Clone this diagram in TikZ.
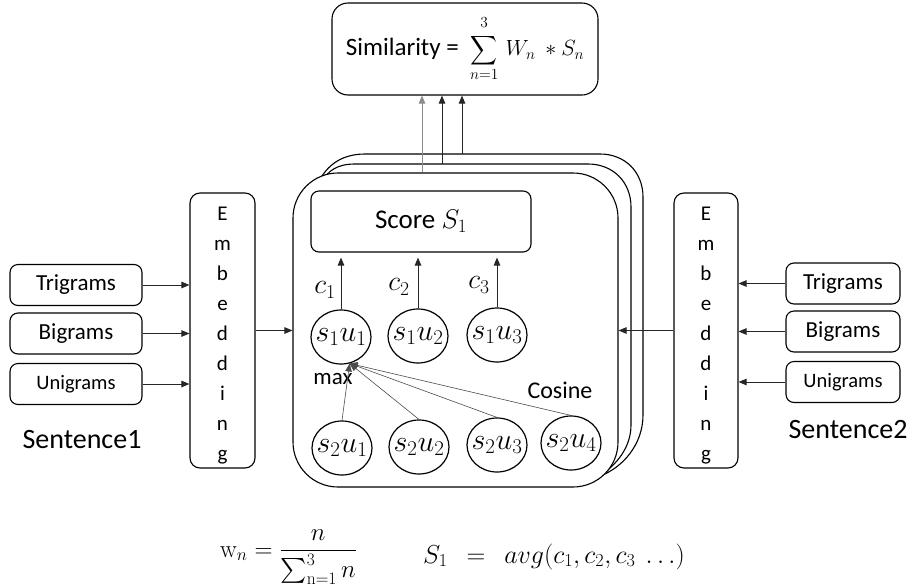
\RequirePackage{fix-cm}
\documentclass[tikz,border=0pt]{standalone}
\usepackage{amsmath}
\usepackage[no-math]{fontspec}
\setmainfont{Carlito}
\usepackage{graphicx}
\usetikzlibrary{arrows.meta,shapes.geometric,calc}

\newcommand{\setfs}[1]{\fontsize{#1}{#1}\selectfont}
% word-pair label that does not widen its ellipse
\newcommand{\wpair}[2]{\makebox[0pt]{$s_{#1}u_{#2}$}}

\tikzset{
  box/.style={draw, line width=1.1pt, rounded corners=8pt, inner sep=0pt},
  gram/.style={box, minimum height=41pt},
  embbox/.style={box, minimum height=275pt, rounded corners=10pt, align=center,
    font=\fontsize{21}{30}\selectfont},
  unit/.style={draw, ellipse, line width=1.2pt, minimum width=60pt, minimum height=54pt,
    inner sep=0pt, font=\setfs{30}},
  arr/.style={-{Triangle[length=8pt,width=6.5pt]}, line width=0.9pt, draw=black!85},
  thinarr/.style={-{Triangle[length=8pt,width=6.5pt]}, line width=0.6pt, draw=black!70},
  card/.style={line width=1.1pt},
  lbl/.style={inner sep=0pt}
}

\begin{document}
\begin{tikzpicture}[x=1pt,y=-1pt]
\useasboundingbox (0,0) rectangle (913,587);

% stacked cards behind the front one
\path[fill=white] (316,188) .. controls (324,167) and (340,154) .. (365,154) -- (600,154)
  .. controls (625,154) and (643,172) .. (643,197) -- (643,415)
  .. controls (643,445) and (622,468) .. (600,476) -- cycle;
\draw[card] (316,188) .. controls (324,167) and (340,154) .. (365,154) -- (600,154)
  .. controls (625,154) and (643,172) .. (643,197) -- (643,415)
  .. controls (643,445) and (622,468) .. (600,476);
\path[fill=white] (321,183) .. controls (328,170) and (338,164) .. (355,164) -- (588,164)
  .. controls (613,164) and (631,182) .. (631,207) -- (631,425)
  .. controls (631,447) and (617,465) .. (598,477) -- cycle;
\draw[card] (321,183) .. controls (328,170) and (338,164) .. (355,164) -- (588,164)
  .. controls (613,164) and (631,182) .. (631,207) -- (631,425)
  .. controls (631,447) and (617,465) .. (598,477);
\coordinate (backtop) at (462,154);
\coordinate (midtop) at (442,164);

% front card
\node[draw, fill=white, line width=1.1pt, rounded corners=45pt, minimum width=325pt,
  minimum height=314pt, inner sep=0pt] (front) at (455.5,330) {};

% similarity box
\node[box, rounded corners=16pt, minimum width=266pt, minimum height=92pt] (sim) at (465,49)
  {\setfs{25}Similarity =\ \ \setfs{22}$\displaystyle
   \mathop{\vcenter{\hbox{\scalebox{0.9}[0.98]{$\displaystyle\sum$}}}}\limits_{n=1}^{\raisebox{2pt}{$\scriptstyle 3$}}\, W_n\ \ast S_n$};

% score box
\node[box, minimum width=220pt, minimum height=61pt] (score) at (421,221.5)
  {\setfs{27}Score $S_1$};

% word pair units
\node[unit] (s1u1) at (341,337) {\wpair{1}{1}};
\node[unit] (s1u2) at (418,336) {\wpair{1}{2}};
\node[unit] (s1u3) at (497,335) {\wpair{1}{3}};
\node[unit] (s2u1) at (342,448) {\wpair{2}{1}};
\node[unit] (s2u2) at (419,447) {\wpair{2}{2}};
\node[unit] (s2u3) at (497,445) {\wpair{2}{3}};
\node[unit] (s2u4) at (571,443) {\wpair{2}{4}};

\node[lbl, font=\setfs{28}] (c1) at (325,290) {$c_1$};
\node[lbl, font=\setfs{28}] (c2) at (399,287) {$c_2$};
\node[lbl, font=\setfs{28}] (c3) at (479,285) {$c_3$};
\node[lbl, font=\setfs{23}] (maxlbl) at (333,379) {max};
\node[lbl, font=\setfs{24}] (coslbl) at (560,390) {Cosine};

% embedding columns
\node[embbox, minimum width=65pt] (emb1) at (222.5,330.5)
  {\rule{0pt}{24pt}E\\m\\b\\e\\d\\d\\i\\n\\g};
\node[embbox, minimum width=64pt] (emb2) at (706,330.5)
  {\rule{0pt}{24pt}E\\m\\b\\e\\d\\d\\i\\n\\g};

% n-gram inputs
\node[gram, minimum width=132pt, font=\setfs{23}] (tri1) at (76,285) {Trigrams};
\node[gram, minimum width=132pt, font=\setfs{23}] (bi1) at (76,333.5) {Bigrams};
\node[gram, minimum width=132pt, font=\setfs{20.5}] (uni1) at (76,384) {Unigrams};
\node[gram, minimum width=114pt, font=\setfs{23}] (tri2) at (843,283.5) {Trigrams};
\node[gram, minimum width=114pt, font=\setfs{23}] (bi2) at (843,331.5) {Bigrams};
\node[gram, minimum width=114pt, font=\setfs{20.5}] (uni2) at (843,382) {Unigrams};

\node[lbl, font=\setfs{28}] (sent1) at (82,440) {Sentence1};
\node[lbl, font=\setfs{28}] (sent2) at (848,430) {Sentence2};

% connectors
\foreach \g in {tri1,bi1,uni1} \draw[arr] (\g.east) -- (\g.east -| emb1.west);
\foreach \g in {tri2,bi2,uni2} \draw[arr] (\g.west) -- (\g.west -| emb2.east);
\draw[arr] (emb1.east) -- (emb1.east -| front.west);
\draw[arr] (emb2.west) -- (emb2.west -| front.east);

\foreach \u in {s1u1,s1u2,s1u3}
  \draw[arr, shorten >=5pt] (\u.north) -- (\u.north |- score.south);

\foreach \u in {s2u1,s2u2,s2u3,s2u4}
  \draw[thinarr] (\u.north) -- (s1u1.-72);

\draw[arr, draw=black!45] ([xshift=-33.5pt]front.north) -- ([xshift=-33.5pt]front.north |- sim.south);
\draw[arr] (midtop) -- (midtop |- sim.south);
\draw[arr] (backtop) -- (backtop |- sim.south);

% formulas below
\node[lbl, anchor=base west, font=\setfs{25}] (wform) at (220,557)
  {$\displaystyle\mathrm{w}_n = \frac{n}{\textstyle\sum_{\mathrm{n}=1}^{3} n}$};
\node[lbl, anchor=base west, font=\setfs{26}] (sform) at (423,563)
  {$S_1\ \ =\ \ avg(c_1, c_2, c_3\ \ldots)$};
\end{tikzpicture}
\end{document}
